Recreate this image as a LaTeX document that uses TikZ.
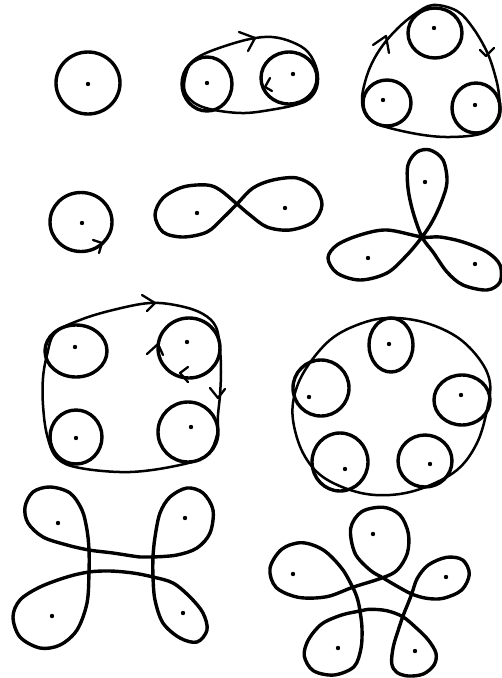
\documentclass[tikz,border=0pt]{standalone}
\begin{document}
\begin{tikzpicture}[x=1pt,y=-1pt,
  heavy/.style={line width=3.4pt,line join=round},
  contour/.style={line width=2.5pt,line join=round},
  chev/.style={line width=2.3pt,line join=round,line cap=round},
  ptdot/.style={fill=black}]
\fill[white] (0,0) rectangle (502,678);
\useasboundingbox (0,0) rectangle (502,678);

% ---------- Row 1 ----------
% single circle
\draw[heavy] (88,83) ellipse [x radius=32pt, y radius=31pt];
\fill[ptdot] (88,84) circle (2.2pt);

% two circles in oval
\draw[contour] plot[smooth cycle, tension=0.6] coordinates {
 (184,85) (189,66) (200,56) (222,47) (250,39) (272,37) (292,42) (308,52)
 (317,70) (317,87) (309,99) (295,105) (270,110) (245,113) (220,111) (200,106) (188,97)};
\draw[heavy] (207,84) ellipse [x radius=25pt, y radius=27pt];
\draw[heavy] (289,78) ellipse [x radius=28pt, y radius=26pt];
\fill[ptdot] (207,83) circle (2.2pt);
\fill[ptdot] (293,74) circle (2.2pt);
\draw[chev] (239,32) -- (255,38) -- (248,51);
\draw[chev] (270,78) -- (265,87) -- (272,91);

% three circles in rounded triangle
\draw[contour] plot[smooth cycle, tension=0.6] coordinates {
 (433,5) (415,14) (398,28) (383,45) (372,63) (365,82) (362,100) (366,115)
 (380,125) (417,134) (450,137) (483,133) (499,118) (499,95) (495,75) (487,52) (473,28) (457,11)};
\draw[heavy] (435,33) ellipse [x radius=27pt, y radius=25pt];
\draw[heavy] (387,103) ellipse [x radius=24pt, y radius=23pt];
\draw[heavy] (476,108) ellipse [x radius=24pt, y radius=25pt];
\fill[ptdot] (434,28) circle (2.2pt);
\fill[ptdot] (383,100) circle (2.2pt);
\fill[ptdot] (475,105) circle (2.2pt);
\draw[chev] (373,45) -- (386,36) -- (389,53);
\draw[chev] (480,50) -- (486,56) -- (494,48);

% ---------- Row 2 ----------
\draw[heavy] (81,222) ellipse [x radius=31pt, y radius=29.5pt];
\fill[ptdot] (82,223) circle (2.2pt);
\draw[chev] (93,240) -- (102,243) -- (99,253);

% figure eight
\draw[heavy] plot[smooth cycle, tension=0.55] coordinates {
 (237,204) (253,188) (273,180) (297,178) (315,188) (322,205) (313,222) (290,230)
 (267,227) (250,215) (237,204) (220,190) (207,185) (183,187) (163,198) (155,215)
 (163,232) (183,237) (207,232) (223,218)};
\fill[ptdot] (197,213) circle (2.2pt);
\fill[ptdot] (285,208) circle (2.2pt);

% trefoil
\draw[heavy] plot[smooth cycle, tension=0.55] coordinates {
 (422,237) (432,222) (441,203) (447,182) (443,160) (430,150) (417,152) (408,165)
 (408,188) (413,212) (422,237) (433,252) (447,272) (463,285) (487,290) (500,282)
 (500,265) (487,252) (463,242) (440,237) (422,237) (387,230) (360,235) (337,245)
 (328,258) (337,273) (360,280) (387,273) (407,255)};
\fill[ptdot] (425,182) circle (2.2pt);
\fill[ptdot] (368,258) circle (2.2pt);
\fill[ptdot] (475,264) circle (2.2pt);

% ---------- Row 3 ----------
% four circles
\draw[contour] plot[smooth cycle, tension=0.6] coordinates {
 (47,355) (55,333) (80,320) (113,310) (150,303) (180,306) (203,314) (216,327)
 (220,350) (221,372) (220,395) (218,415) (217,435) (207,455) (180,465) (130,472)
 (80,468) (57,458) (47,435) (43,405) (43,378)};
\draw[heavy] (76,351) ellipse [x radius=31pt, y radius=26pt];
\draw[heavy] (189,348) ellipse [x radius=31pt, y radius=30pt];
\draw[heavy] (76,437) ellipse [x radius=26pt, y radius=27pt];
\draw[heavy] (188,432) ellipse [x radius=30pt, y radius=30pt];
\fill[ptdot] (75,347) circle (2.2pt);
\fill[ptdot] (187,342) circle (2.2pt);
\fill[ptdot] (76,438) circle (2.2pt);
\fill[ptdot] (191,427) circle (2.2pt);
\draw[chev] (142,295) -- (155,303) -- (147,311);
\draw[chev] (147,354) -- (158,344) -- (163,355);
\draw[chev] (188,367) -- (180,373) -- (188,382);
\draw[chev] (210,388) -- (218,398) -- (225,389);

% five circles
\draw[contour] plot[smooth cycle, tension=0.6] coordinates {
 (387,318) (423,322) (457,337) (480,360) (490,383) (487,410) (477,443) (457,470)
 (423,488) (390,495) (357,492) (323,477) (303,453) (293,420) (295,393) (307,367)
 (330,340) (357,325)};
\draw[heavy] (391,345) ellipse [x radius=22pt, y radius=27pt];
\draw[heavy] (321,388) ellipse [x radius=28pt, y radius=28pt];
\draw[heavy] (462,400) ellipse [x radius=28pt, y radius=25pt];
\draw[heavy] (340,462) ellipse [x radius=28pt, y radius=29pt];
\draw[heavy] (425,461) ellipse [x radius=27pt, y radius=26pt];
\fill[ptdot] (389,344) circle (2.2pt);
\fill[ptdot] (309,397) circle (2.2pt);
\fill[ptdot] (461,395) circle (2.2pt);
\fill[ptdot] (345,469) circle (2.2pt);
\fill[ptdot] (430,464) circle (2.2pt);

% ---------- Row 4 ----------
% four-loop H curve
\draw[heavy] plot[smooth cycle, tension=0.55] coordinates {
 (89,550) (87,530) (82,510) (70,493) (50,487) (33,492) (25,507) (28,523) (43,537)
 (67,545) (89,550) (113,553) (140,557) (153,557) (177,555) (197,548) (210,533)
 (213,510) (203,493) (187,488) (170,497) (160,513) (155,537) (153,557) (153,577)
 (155,600) (163,623) (180,638) (197,642) (207,630) (203,613) (190,597) (173,583)
 (153,577) (133,573) (110,571) (89,572) (67,577) (40,587) (20,600) (13,617)
 (20,637) (40,648) (60,645) (77,630) (87,603) (89,572)};
\fill[ptdot] (58,523) circle (2.2pt);
\fill[ptdot] (185,518) circle (2.2pt);
\fill[ptdot] (52,616) circle (2.2pt);
\fill[ptdot] (183,613) circle (2.2pt);

% five-loop star curve
\draw[heavy] plot[smooth cycle, tension=0.55] coordinates {
 (383.3,507.3) (361.7,511.7) (350.7,528.3) (355,553.3) (370,570) (382.7,577.7)
 (396.7,586) (411.7,594) (426.7,598.3) (443.3,598.3) (461.7,590) (469.3,574)
 (462.7,560) (446.7,557.3) (428.3,565) (417.3,578.3) (411.7,594) (406.7,606.7)
 (402.7,616.7) (398.3,630) (393.3,646.7) (391.7,663.3) (396.7,672.3) (408.3,676)
 (423.3,674) (434,665) (436,653.3) (428.3,640) (416.7,628.3) (402.7,616.7)
 (386.7,610.7) (370,609.3) (360,611) (341.7,615) (321.7,624) (308.3,640)
 (304.3,656) (313.3,670.7) (334,675) (354,666.7) (361,648.3) (362,628.3)
 (360,611) (357.3,598.3) (352.7,587.3) (341.7,568.3) (323.3,550) (301.7,542.7)
 (281.7,549.3) (270,568.3) (276,587.3) (298.3,597.3) (326.7,596.7) (352.7,587.3)
 (382.7,577.7) (397.3,570) (407.3,553.3) (408.3,533.3) (400,515)};
\fill[ptdot] (373,534) circle (2.2pt);
\fill[ptdot] (293,574) circle (2.2pt);
\fill[ptdot] (446,577) circle (2.2pt);
\fill[ptdot] (338,648) circle (2.2pt);
\fill[ptdot] (415,651) circle (2.2pt);
\end{tikzpicture}
\end{document}
